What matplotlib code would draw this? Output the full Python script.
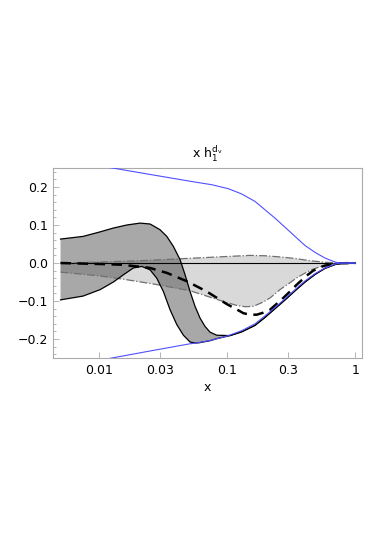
import numpy as np
import matplotlib
matplotlib.use('Agg')
import matplotlib.pyplot as plt
from matplotlib.ticker import FixedLocator, MultipleLocator, NullLocator, FuncFormatter

# common tail where both edges of the dark band coincide
tail_x = [0.1299, 0.1649, 0.1974, 0.2362, 0.2828, 0.3384, 0.405, 0.4848, 0.58, 0.694, 0.76, 0.85, 1.0]
tail_y = [-0.181, -0.164, -0.143, -0.120, -0.097, -0.073, -0.050, -0.030, -0.014, -0.004, -0.001, 0.0, 0.0]

# dark grey band, upper / lower edge
dark_up_x = [0.005, 0.0075, 0.0102, 0.01293, 0.01645, 0.0209, 0.025, 0.0299, 0.03376, 0.038,
             0.04287, 0.0469, 0.0513, 0.0561, 0.0614, 0.06718, 0.07349, 0.0829, 0.1052] + tail_x
dark_up_y = [0.063, 0.070, 0.082, 0.092, 0.100, 0.105, 0.1026, 0.0876, 0.070, 0.0437,
             0.0087, -0.031, -0.075, -0.114, -0.145, -0.167, -0.182, -0.190, -0.191] + tail_y
dark_lo_x = [0.005, 0.0075, 0.0102, 0.01293, 0.01548, 0.01852, 0.02154, 0.025, 0.0282, 0.03176,
             0.03581, 0.0404, 0.0455, 0.0513, 0.0561, 0.06, 0.07349, 0.0829, 0.1052] + tail_x
dark_lo_y = [-0.097, -0.087, -0.070, -0.050, -0.031, -0.013, -0.009, -0.018, -0.040, -0.075,
             -0.123, -0.162, -0.190, -0.208, -0.2105, -0.210, -0.2045, -0.199, -0.191] + tail_y

# light grey band (dash-dot edges)
light_up_x = [0.005, 0.0102, 0.0209, 0.0561, 0.1052, 0.15, 0.2, 0.258, 0.3384, 0.443, 0.58, 0.75, 1.0]
light_up_y = [0.0, 0.0026, 0.006, 0.013, 0.0175, 0.020, 0.019, 0.016, 0.012, 0.006, 0.002, 0.0, 0.0]
light_lo_x = [0.005, 0.0102, 0.01645, 0.0274, 0.0513, 0.0992, 0.12, 0.138, 0.16, 0.19, 0.216,
              0.258, 0.309, 0.349, 0.418, 0.47, 0.5625, 0.635, 0.75, 1.0]
light_lo_y = [-0.024, -0.034, -0.044, -0.056, -0.073, -0.104, -0.112, -0.115, -0.114, -0.103, -0.092,
              -0.070, -0.052, -0.039, -0.024, -0.016, -0.007, -0.003, 0.0, 0.0]

# central dashed curve
mid_x = [0.005, 0.0102, 0.015, 0.0197, 0.025, 0.0299, 0.0338, 0.0484, 0.0692, 0.0992, 0.126,
         0.1337, 0.15, 0.17, 0.19, 0.216, 0.274, 0.309, 0.349, 0.418, 0.47, 0.5625, 0.7, 1.0]
mid_y = [0.0, -0.0026, -0.0045, -0.009, -0.013, -0.021, -0.026, -0.048, -0.075, -0.108, -0.127,
         -0.132, -0.136, -0.136, -0.131, -0.123, -0.092, -0.075, -0.057, -0.033, -0.020, -0.008, -0.001, 0.0]

# positivity bounds (blue)
bound_up_x = [0.005, 0.01148, 0.025, 0.0561, 0.0758, 0.1021, 0.1299, 0.1649, 0.1974, 0.2362,
              0.2828, 0.3384, 0.405, 0.4848, 0.58, 0.694, 0.76, 1.0]
bound_up_y = [0.274, 0.2526, 0.233, 0.213, 0.206, 0.1955, 0.1816, 0.162, 0.140, 0.118,
              0.094, 0.070, 0.046, 0.028, 0.013, 0.0026, 0.0, 0.0]
bound_lo_x = [0.005, 0.01256, 0.025, 0.0513, 0.0561, 0.0758, 0.1021, 0.1299, 0.1649, 0.1974,
              0.2362, 0.2828, 0.3384, 0.405, 0.4848, 0.58, 0.694, 0.76, 1.0]
bound_lo_y = [-0.275, -0.25, -0.2315, -0.2125, -0.211, -0.203, -0.191, -0.178, -0.160, -0.139,
              -0.117, -0.094, -0.070, -0.047, -0.028, -0.013, -0.003, 0.0, 0.0]

xticks = [0.01, 0.03, 0.1, 0.3, 1]
xticklabels = ["0.01", "0.03", "0.1", "0.3", "1"]

fig = plt.figure(figsize=(3.82, 5.40), dpi=100)
ax = fig.add_axes([0.1395, 0.337, 0.8074, 0.3519])

ax.fill(np.concatenate([light_up_x, light_lo_x[::-1]]),
        np.concatenate([light_up_y, light_lo_y[::-1]]),
        color="black", alpha=0.15, lw=0, zorder=1)
ax.fill(np.concatenate([dark_up_x, dark_lo_x[::-1]]),
        np.concatenate([dark_up_y, dark_lo_y[::-1]]),
        color="black", alpha=0.34, lw=0, zorder=2)

ax.plot([0.005, 1.0], [0, 0], color="black", lw=0.8, zorder=3)
ax.plot(light_up_x, light_up_y, color="#707070", lw=0.9, ls="-.", zorder=3)
ax.plot(light_lo_x, light_lo_y, color="#707070", lw=0.9, ls="-.", zorder=3)
ax.plot(dark_up_x, dark_up_y, color="black", lw=0.9, zorder=4)
ax.plot(dark_lo_x, dark_lo_y, color="black", lw=0.9, zorder=4)
ax.plot(mid_x, mid_y, color="black", lw=1.8, ls=(0, (4.2, 2.6)), zorder=5)
ax.plot(bound_up_x, bound_up_y, color="#5050ff", lw=0.8, zorder=6)
ax.plot(bound_lo_x, bound_lo_y, color="#5050ff", lw=0.8, zorder=6)

ax.set_xscale("log")
ax.set_xlim(0.00439, 1.122)
ax.set_ylim(-0.25, 0.25)

ax.xaxis.set_major_locator(FixedLocator(xticks))
ax.set_xticklabels(xticklabels)
ax.xaxis.set_minor_locator(NullLocator())
ax.yaxis.set_major_locator(MultipleLocator(0.1))
ax.yaxis.set_minor_locator(MultipleLocator(0.02))
ax.yaxis.set_major_formatter(FuncFormatter(lambda v, p: f"{v:.1f}".replace("-", "\u2212")))

ax.tick_params(axis="both", which="both", direction="in", colors="#aaaaaa",
               labelcolor="black", labelsize=9, width=0.6)
ax.tick_params(axis="both", which="major", length=4, pad=4)
ax.tick_params(axis="y", which="minor", length=2)
for s in ax.spines.values():
    s.set_color("#aaaaaa")
    s.set_linewidth(0.8)

ax.set_title(r"x $\mathrm{h}_1^{\mathrm{d_v}}$", fontsize=9, pad=7)
ax.set_xlabel("x", fontsize=9, labelpad=3)

fig.savefig("out.png", dpi=100)
